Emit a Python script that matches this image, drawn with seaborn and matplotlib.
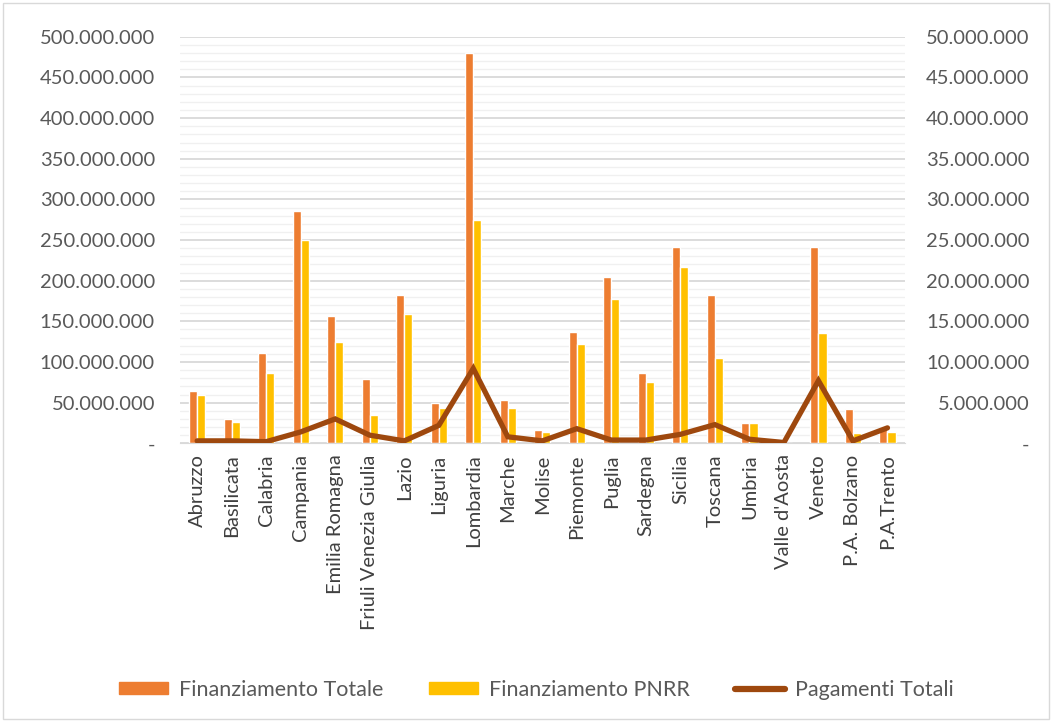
import numpy as np
import pandas as pd
import matplotlib
matplotlib.use("Agg")
import matplotlib.pyplot as plt
import seaborn as sns
from matplotlib.ticker import FuncFormatter, MultipleLocator
from matplotlib.patches import Rectangle, Patch
from matplotlib.lines import Line2D

regioni = ["Abruzzo", "Basilicata", "Calabria", "Campania", "Emilia Romagna",
           "Friuli Venezia Giulia", "Lazio", "Liguria", "Lombardia", "Marche",
           "Molise", "Piemonte", "Puglia", "Sardegna", "Sicilia", "Toscana",
           "Umbria", "Valle d'Aosta", "Veneto", "P.A. Bolzano", "P.A.Trento"]
# milioni di euro
fin_totale = [64, 29.5, 111, 286, 156, 79, 182, 49, 480, 53, 16, 137, 204, 86,
              241, 183, 25, 0.5, 241, 42, 18]
fin_pnrr = [59, 26, 86, 250, 125, 35, 159, 43, 275, 43, 14, 122, 177, 75,
            217, 105, 25, 0.5, 136, 13, 14]
pagamenti = [0.3, 0.3, 0.2, 1.4, 3.0, 1.0, 0.3, 2.2, 9.2, 0.8, 0.3, 1.8, 0.4, 0.4,
             1.1, 2.3, 0.5, 0.1, 7.7, 0.3, 1.9]

ORANGE = "#ED7D31"
YELLOW = "#FFC000"
BROWN = "#9E480E"
GREY = "#595959"
FS = 14.5

df = pd.DataFrame({
    "regione": regioni * 2,
    "valore": [v * 1e6 for v in fin_totale] + [v * 1e6 for v in fin_pnrr],
    "serie": ["Finanziamento Totale"] * len(regioni) + ["Finanziamento PNRR"] * len(regioni),
})

sns.set_style("white")
plt.rcParams["font.family"] = ["Lato", "DejaVu Sans"]

def it_fmt(v, pos):
    if abs(v) < 1:
        return "-"
    return f"{v:,.0f}".replace(",", ".")

fig = plt.figure(figsize=(10.52, 7.22), dpi=100)
ax = fig.add_axes([0.171, 0.386, 0.689, 0.563])

sns.barplot(data=df, x="regione", y="valore", hue="serie", order=regioni,
            palette=[ORANGE, YELLOW], width=0.47, gap=0, saturation=1,
            ax=ax, legend=False)
ax.set_ylim(0, 500e6)
ax.set_xlim(-0.5, len(regioni) - 0.5)
ax.yaxis.set_major_locator(MultipleLocator(50e6))
ax.yaxis.set_minor_locator(MultipleLocator(10e6))
ax.yaxis.set_major_formatter(FuncFormatter(it_fmt))
ax.grid(axis="y", which="major", color="#d9d9d9", linewidth=1.3)
ax.grid(axis="y", which="minor", color="#f0f0f0", linewidth=1.0)
ax.set_axisbelow(True)
ax.set_xlabel("")
ax.set_ylabel("")
for s in ["top", "right", "left"]:
    ax.spines[s].set_visible(False)
ax.spines["bottom"].set_color("#d9d9d9")
ax.tick_params(axis="y", which="both", length=0, pad=18, labelsize=FS, labelcolor=GREY)
ax.tick_params(axis="x", length=0, pad=8, labelsize=FS, labelcolor="#404040")
plt.setp(ax.get_xticklabels(), rotation=90)

ax2 = ax.twinx()
sns.lineplot(x=np.arange(len(regioni)), y=[p * 1e6 for p in pagamenti], ax=ax2,
             color=BROWN, linewidth=3.8, solid_joinstyle="miter")
ax2.set_ylim(0, 50e6)
ax2.yaxis.set_major_locator(MultipleLocator(5e6))
ax2.yaxis.set_major_formatter(FuncFormatter(it_fmt))
ax2.tick_params(axis="y", length=0, pad=90, labelsize=FS, labelcolor=GREY)
for lab in ax2.get_yticklabels():
    lab.set_horizontalalignment("right")
for s in ax2.spines.values():
    s.set_visible(False)
ax2.set_ylabel("")

handles = [Patch(color=ORANGE), Patch(color=YELLOW), Line2D([], [], color=BROWN, linewidth=4.5)]
labels = ["Finanziamento Totale", "Finanziamento PNRR", "Pagamenti Totali"]
fig.legend(handles, labels, loc="center", bbox_to_anchor=(0.51, 0.045), ncol=3,
           frameon=False, fontsize=15.5, labelcolor=GREY, handlelength=2.3,
           handleheight=0.5, handletextpad=0.5, columnspacing=2.1)

fig.patches.append(Rectangle((0.003, 0.004), 0.994, 0.992, transform=fig.transFigure,
                             fill=False, edgecolor="#d9d9d9", linewidth=1))

fig.savefig("out.png", dpi=100)
